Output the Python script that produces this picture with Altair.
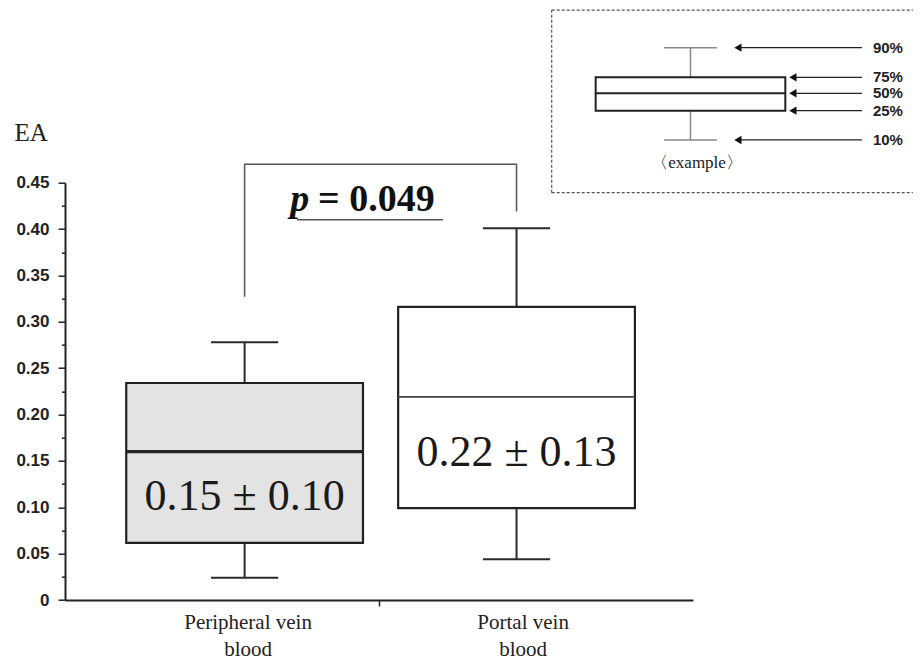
import altair as alt
import pandas as pd

# ---------------- data ----------------
categories = ["Peripheral vein\nblood", "Portal vein\nblood"]
p10 = [0.024, 0.044]
p25 = [0.0615, 0.099]
p50 = [0.160, 0.219]
p75 = [0.234, 0.316]
p90 = [0.278, 0.401]
mean_sd = ["0.15 \u00b1 0.10", "0.22 \u00b1 0.13"]

p_value_text = "= 0.049"

# significance bracket (EA units)
bracket_y = [0.327, 0.470, 0.470, 0.419]
bracket_grp = [0, 0, 1, 1]

# example (legend) box schematic, drawn in the same units
example_labels = ["90%", "75%", "50%", "25%", "10%"]
example_levels = [0.5956, 0.5636, 0.5464, 0.5277, 0.4961]
example_caption = "\u3008example\u3009"

# ---------------- layout (not data) ----------------
POS = [0.572, 1.438]          # category centres on x scale [0, 2]
LABEL_POS = [0.583, 1.459]
BOX_HALF = 0.377
CAP_HALF = 0.107
W, H = 628, 417.3

xs = alt.Scale(domain=[0, 2], nice=False, zero=False)
ys = alt.Scale(domain=[0, 0.45], nice=False, zero=True)

xa = alt.Axis(
    title=None, grid=False, values=[1.0], labels=False,
    tickSize=6, tickColor="#222", tickWidth=1.5,
    domainColor="#222", domainWidth=2,
)
yvals = [round(i * 0.025, 3) for i in range(19)]
ya = alt.Axis(
    title="EA", titleAngle=0, titleAlign="left", titleBaseline="alphabetic",
    titleX=-51, titleY=-42, titleFont="Liberation Serif", titleFontSize=25,
    titleFontWeight="normal", titleColor="#222",
    grid=False, values=yvals,
    labelExpr="round(datum.value*200) % 2 == 0 ? (datum.value == 0 ? '0' : format(datum.value, '.2f')) : ''",
    tickSize={"condition": {"test": "round(datum.value*200) % 2 == 0", "value": 7}, "value": 3.5},
    tickColor="#222", tickWidth=1.5,
    domainColor="#222", domainWidth=2,
    labelFont="Liberation Sans", labelFontWeight="bold", labelFontSize=17,
    labelColor="#222", labelPadding=9, labelOverlap=False, labelFlush=False,
)


def X(f):
    return alt.X(f, type="quantitative", scale=xs, axis=xa)


def Y(f):
    return alt.Y(f, type="quantitative", scale=ys, axis=ya)


def XD(v):
    return alt.X(datum=v, scale=xs, axis=xa)


def YD(v):
    return alt.Y(datum=v, scale=ys, axis=ya)


df = pd.DataFrame({
    "idx": [0, 1], "pos": POS, "lpos": LABEL_POS, "cat": categories,
    "p10": p10, "p25": p25, "p50": p50,
    "p75": p75, "p90": p90, "label": mean_sd,
})
base = alt.Chart(df).transform_calculate(
    bl=f"datum.pos - {BOX_HALF}", br=f"datum.pos + {BOX_HALF}",
    cl=f"datum.pos - {CAP_HALF}", cr=f"datum.pos + {CAP_HALF}",
    ty="(datum.p25 + datum.p50) / 2",
)

whisker = base.mark_rule(color="#2a2a2a", strokeWidth=2).encode(x=X("pos"), y=Y("p10"), y2="p90")
cap_lo = base.mark_rule(color="#2a2a2a", strokeWidth=2).encode(x=X("cl"), x2="cr", y=Y("p10"))
cap_hi = base.mark_rule(color="#2a2a2a", strokeWidth=2).encode(x=X("cl"), x2="cr", y=Y("p90"))
box = base.mark_rect(stroke="#222", strokeWidth=2.2).encode(
    x=X("bl"), x2="br", y=Y("p25"), y2="p75",
    fill=alt.condition("datum.idx == 0", alt.value("#e3e3e3"), alt.value("white")),
)
median = base.mark_rule().encode(
    x=X("bl"), x2="br", y=Y("p50"),
    strokeWidth=alt.condition("datum.idx == 0", alt.value(3.2), alt.value(1.6)),
    color=alt.condition("datum.idx == 0", alt.value("#222"), alt.value("#444")),
)
msd = base.mark_text(font="Liberation Serif", fontSize=44, baseline="middle",
                     align="center", color="#1a1a1a").encode(
    x=X("pos"), y=Y("ty"), text="label:N")
cat_lab = base.mark_text(font="Liberation Serif", fontSize=21, baseline="top",
                         align="center", color="#222", dy=12, lineBreak="\n",
                         lineHeight=27).encode(
    x=X("lpos"), y=YD(0), text="cat:N")

# bracket
bdf = pd.DataFrame({"grp": bracket_grp, "y": bracket_y, "o": [0, 1, 2, 3]})
bracket = alt.Chart(bdf).transform_calculate(
    bx=f"datum.grp == 0 ? {POS[0]} : {POS[1]}"
).mark_line(color="#555", strokeWidth=1.5).encode(
    x=X("bx"), y=Y("y"), order="o:Q")

pdf = pd.DataFrame({"t1": ["p"], "t2": [p_value_text]})
p_italic = alt.Chart(pdf).mark_text(
    font="Liberation Serif", fontSize=38, fontStyle="italic", fontWeight="bold",
    align="left", baseline="alphabetic", color="#111",
).encode(x=XD(0.717), y=YD(0.419), text="t1:N")
p_rest = alt.Chart(pdf).mark_text(
    font="Liberation Serif", fontSize=38, fontWeight="bold",
    align="left", baseline="alphabetic", color="#111",
).encode(x=XD(0.806), y=YD(0.419), text="t2:N")
underline = alt.Chart(pdf).mark_rule(color="#555", strokeWidth=1.5).encode(
    x=XD(0.739), x2=alt.datum(1.204), y=YD(0.410))

# ---------------- example inset ----------------
edf = pd.DataFrame({"lab": example_labels, "lev": example_levels})
ex_x = 1.992
dash = dict(color="#555", strokeWidth=1.2, strokeDash=[3, 2])
ex_border_top = alt.Chart(pdf).mark_rule(**dash).encode(
    x=XD(1.550), x2=alt.datum(2.70), y=YD(0.6362))
ex_border_bot = alt.Chart(pdf).mark_rule(**dash).encode(
    x=XD(1.550), x2=alt.datum(2.70), y=YD(0.4392))
ex_border_left = alt.Chart(pdf).mark_rule(**dash).encode(
    x=XD(1.550), y=YD(0.4392), y2=alt.datum(0.6362))

ewide = alt.Chart(edf).transform_pivot("lab", value="lev")
ex_whisk = ewide.mark_rule(color="#888", strokeWidth=1.5).encode(
    x=XD(ex_x), y=Y("10%"), y2="90%")
ex_caps = alt.Chart(edf).transform_filter(
    "datum.lab == '90%' || datum.lab == '10%'"
).mark_rule(color="#888", strokeWidth=1.5).encode(
    x=XD(ex_x - 0.084), x2=alt.datum(ex_x + 0.084), y=Y("lev"))
ex_box = ewide.mark_rect(fill="white", stroke="#222", strokeWidth=2).encode(
    x=XD(ex_x - 0.302), x2=alt.datum(ex_x + 0.302), y=Y("25%"), y2="75%")
ex_med = ewide.mark_rule(color="#222", strokeWidth=2).encode(
    x=XD(ex_x - 0.302), x2=alt.datum(ex_x + 0.302), y=Y("50%"))

earr = alt.Chart(edf).transform_calculate(
    ax="(datum.lab == '90%' || datum.lab == '10%') ? 2.143 : 2.318",
    ax2="2.538", lx="2.573",
)
ex_shaft = earr.mark_rule(color="#222", strokeWidth=1.3).encode(x=X("ax"), x2="ax2:Q", y=Y("lev"))
ex_head = earr.mark_point(shape="triangle-left", filled=True, color="#111", size=70, opacity=1).encode(
    x=X("ax"), y=Y("lev"))
ex_lab = earr.mark_text(font="Liberation Sans", fontWeight="bold", fontSize=15, align="left",
                        baseline="middle", color="#222").encode(x=X("lx"), y=Y("lev"), text="lab:N")
ex_cap = alt.Chart(pd.DataFrame({"t": [example_caption]})).mark_text(
    font="Liberation Serif", fontSize=17, align="center", baseline="middle", color="#222"
).encode(x=XD(2.013), y=YD(0.4713), text="t:N")

chart = alt.layer(
    bracket, whisker, cap_lo, cap_hi, box, median, msd, cat_lab,
    p_italic, p_rest, underline,
    ex_border_top, ex_border_bot, ex_border_left,
    ex_whisk, ex_caps, ex_box, ex_med, ex_shaft, ex_head, ex_lab, ex_cap,
).properties(
    width=W, height=H,
    autosize=alt.AutoSizeParams(type="none"),
    padding={"left": 57, "top": 174.7, "right": 220, "bottom": 63},
    background="white",
).configure_view(strokeWidth=0)

chart.save("out.html", embed_options={"renderer": "svg", "actions": False})
